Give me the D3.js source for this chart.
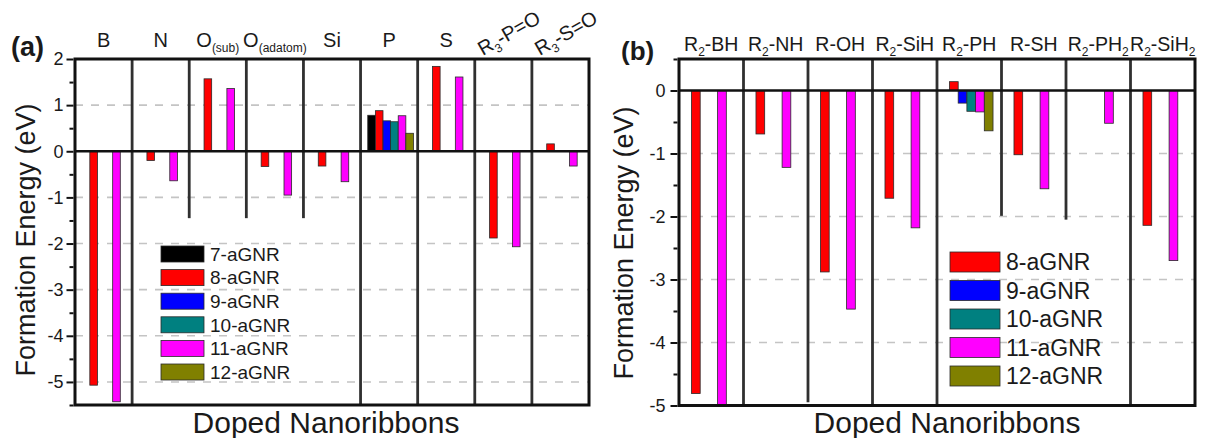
<!DOCTYPE html>
<html><head><meta charset="utf-8">
<script src="https://cdn.jsdelivr.net/npm/d3@7"></script>
<style>
body{margin:0;background:#fff}
svg{display:block}
text{font-family:"Liberation Sans",Arial,sans-serif;fill:#1a1a1a}
</style>
</head><body><svg id="c" width="1205" height="438"></svg>
<script>
// ---------- DATA ----------
const categoriesA = ["B","N","O_{(sub)}","O_{(adatom)}","Si","P","S","R_{3}-P=O","R_{3}-S=O"];
const seriesA = ["7-aGNR","8-aGNR","9-aGNR","10-aGNR","11-aGNR","12-aGNR"];
const valuesA7  = [null,null,null,null,null,0.78,null,null,null];
const valuesA8  = [-5.07,-0.20,1.57,-0.33,-0.32,0.88,1.84,-1.88,0.16];
const valuesA9  = [null,null,null,null,null,0.66,null,null,null];
const valuesA10 = [null,null,null,null,null,0.64,null,null,null];
const valuesA11 = [-5.43,-0.64,1.36,-0.95,-0.66,0.77,1.61,-2.07,-0.32];
const valuesA12 = [null,null,null,null,null,0.39,null,null,null];
const dividerEndsA = [null,-1.45,-1.45,-1.45,null,null,null,null]; // null = full height
const yTicksA = [2,1,0,-1,-2,-3,-4,-5];
const gridA = [1,-1,-2,-3,-4,-5];

const categoriesB = ["R_{2}-BH","R_{2}-NH","R-OH","R_{2}-SiH","R_{2}-PH","R-SH","R_{2}-PH_{2}","R_{2}-SiH_{2}"];
const seriesB = ["8-aGNR","9-aGNR","10-aGNR","11-aGNR","12-aGNR"];
const valuesB8  = [-4.81,-0.69,-2.88,-1.71,0.14,-1.02,null,-2.14];
const valuesB9  = [null,null,null,null,-0.20,null,null,null];
const valuesB10 = [null,null,null,null,-0.33,null,null,null];
const valuesB11 = [-5.0,-1.22,-3.47,-2.18,-0.34,-1.56,-0.52,-2.70];
const valuesB12 = [null,null,null,null,-0.64,null,null,null];
const dividerEndsB = [null,-4.95,null,null,-1.99,-2.05,null];
const yTicksB = [0,-1,-2,-3,-4,-5];
const gridB = [-1,-2,-3,-4];

const seriesColors = {"7-aGNR":"#000000","8-aGNR":"#ff0000","9-aGNR":"#0000ff","10-aGNR":"#008080","11-aGNR":"#ff00ff","12-aGNR":"#808000"};

// ---------- DRAW ----------
const svg = d3.select("#c");

function addRich(t, str, size, subSize) {
  const parts = str.split(/(_\{[^}]*\})/).filter(s => s.length);
  let shifted = false;
  parts.forEach(p => {
    if (p.startsWith("_{")) {
      t.append("tspan").attr("font-size", subSize).attr("dy", 5).text(p.slice(2, -1));
      shifted = true;
    } else {
      const s = t.append("tspan").attr("font-size", size).text(p);
      if (shifted) { s.attr("dy", -5); shifted = false; }
    }
  });
}

function drawPanel(c) {
  const g = svg.append("g");
  const x = d3.scaleBand().domain(c.cats).range([c.x0, c.x1]).padding(0);
  const y = d3.scaleLinear().domain(c.domain).range([c.yBot, c.yTop]);
  const bw = x.bandwidth();
  const inner = d3.scaleBand().domain(c.series)
    .range([bw * (1 - c.gf) / 2 + c.shift, bw * (1 + c.gf) / 2 + c.shift]).padding(0);

  // grid
  g.selectAll(".grid").data(c.grid).join("line")
    .attr("x1", c.x0).attr("x2", c.x1)
    .attr("y1", d => y(d)).attr("y2", d => y(d))
    .attr("stroke", "#c4c4c4").attr("stroke-width", 1.6).attr("stroke-dasharray", "8,8");

  // bars
  c.series.forEach((s, j) => {
    const vals = c.values[j];
    const data = c.cats.map((cat, i) => ({cat, v: vals[i]})).filter(d => d.v !== null);
    g.selectAll(null).data(data).join("rect")
      .attr("x", d => x(d.cat) + inner(s))
      .attr("width", inner.bandwidth())
      .attr("y", d => Math.min(y(0), y(d.v)))
      .attr("height", d => Math.abs(y(d.v) - y(0)))
      .attr("fill", seriesColors[s])
      .attr("stroke", "#2a2a2a").attr("stroke-width", 0.8);
  });

  // dividers
  g.selectAll(".div").data(c.dividers).join("line")
    .attr("x1", (d, i) => x(c.cats[i]) + bw).attr("x2", (d, i) => x(c.cats[i]) + bw)
    .attr("y1", c.yTop)
    .attr("y2", d => d === null ? c.yBot : y(d))
    .attr("stroke", "#303030").attr("stroke-width", 2.8);

  // zero line
  g.append("line").attr("x1", c.x0).attr("x2", c.x1).attr("y1", y(0)).attr("y2", y(0))
    .attr("stroke", "#111").attr("stroke-width", 2.6);

  // frame
  g.append("rect").attr("x", c.x0).attr("y", c.yTop).attr("width", c.x1 - c.x0).attr("height", c.yBot - c.yTop)
    .attr("fill", "none").attr("stroke", "#111").attr("stroke-width", 3);

  // y axis major
  const ax = g.append("g").attr("transform", `translate(${c.x0 - 1.5},0)`)
    .call(d3.axisLeft(y).tickValues(c.yTicks).tickSize(7).tickPadding(c.tickPad).tickFormat(d => String(d)).tickSizeOuter(0));
  ax.select(".domain").remove();
  ax.selectAll(".tick line").attr("stroke", "#111").attr("stroke-width", 2);
  ax.selectAll(".tick text").attr("font-size", 18).attr("fill", "#1a1a1a")
    .attr("font-family", '"Liberation Sans",Arial,sans-serif');
  // minor ticks
  const minors = d3.range(c.domain[0], c.domain[1] + 0.01, 0.5).filter(v => Math.abs(v % 1) > 0.01);
  const mx = g.append("g").attr("transform", `translate(${c.x0 - 1.5},0)`)
    .call(d3.axisLeft(y).tickValues(minors).tickSize(4).tickFormat(""));
  mx.select(".domain").remove();
  mx.selectAll(".tick line").attr("stroke", "#111").attr("stroke-width", 2);

  // category labels
  c.cats.forEach((cat, i) => {
    const cx = x(cat) + bw / 2;
    const t = g.append("text").attr("text-anchor", "middle");
    if (c.rotated && c.rotated.includes(i)) {
      t.attr("transform", `translate(${cx + c.rotDx},${c.rotY}) rotate(-30)`);
    } else {
      t.attr("x", cx).attr("y", c.labelY);
    }
    addRich(t, cat, c.labelSize, 12);
  });

  // panel letter
  g.append("text").attr("x", c.letterX).attr("y", c.letterY).attr("font-size", c.letterSize)
    .attr("font-weight", "bold").text(c.letter);

  // axis titles
  g.append("text").attr("text-anchor", "middle").attr("x", c.xTitleX).attr("y", 433)
    .attr("font-size", 30).text("Doped Nanoribbons");
  g.append("text").attr("text-anchor", "middle")
    .attr("transform", `translate(${c.yTitleX},${c.yTitleY}) rotate(-90)`)
    .attr("font-size", 27).text("Formation Energy (eV)");

  // legend
  const lg = g.append("g");
  c.series.forEach((s, j) => {
    const ry = c.leg.y + j * c.leg.step;
    lg.append("rect").attr("x", c.leg.x).attr("y", ry).attr("width", c.leg.w).attr("height", c.leg.h)
      .attr("fill", seriesColors[s]).attr("stroke", "#2a2a2a").attr("stroke-width", 0.8);
    lg.append("text").attr("x", c.leg.x + c.leg.w + 6).attr("y", ry + c.leg.h / 2)
      .attr("dy", "0.36em").attr("font-size", c.leg.fs).text(s);
  });
}

drawPanel({
  x0: 75, x1: 589, yTop: 59, yBot: 405, domain: [-5.5, 2],
  cats: categoriesA, series: seriesA,
  values: [valuesA7, valuesA8, valuesA9, valuesA10, valuesA11, valuesA12],
  dividers: dividerEndsA, yTicks: yTicksA, grid: gridA,
  gf: 0.8, shift: 1.5, tickPad: 3,
  labelY: 47, labelSize: 20, rotated: [7, 8], rotDx: 9, rotY: 39,
  letter: "(a)", letterX: 11, letterY: 56, letterSize: 27,
  xTitleX: 326, yTitleX: 35, yTitleY: 240,
  leg: {x: 161, y: 246, step: 23.6, w: 43, h: 16, fs: 19}
});

drawPanel({
  x0: 679, x1: 1195, yTop: 59, yBot: 405.5, domain: [-5, 0.5],
  cats: categoriesB, series: seriesB,
  values: [valuesB8, valuesB9, valuesB10, valuesB11, valuesB12],
  dividers: dividerEndsB, yTicks: yTicksB, grid: gridB,
  gf: 0.675, shift: 2, tickPad: 5,
  labelY: 51, labelSize: 19.5, rotated: null,
  letter: "(b)", letterX: 621, letterY: 60, letterSize: 26,
  xTitleX: 947, yTitleX: 633, yTitleY: 243,
  leg: {x: 950, y: 252, step: 28.5, w: 50, h: 20, fs: 23}
});
</script>
</body></html>
